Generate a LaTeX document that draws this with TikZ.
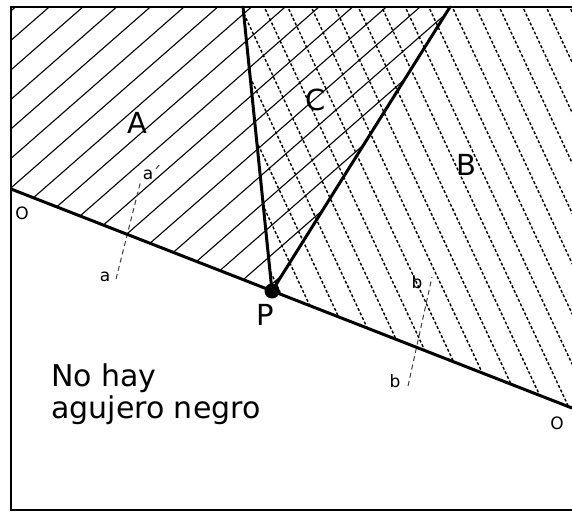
\documentclass[tikz,border=0pt]{standalone}
\usepackage{fontspec}
\setmainfont{DejaVu Sans}
\begin{document}
\begin{tikzpicture}[x=1pt,y=-1pt,
  frame/.style={line width=2.7pt},
  mainline/.style={line width=3pt},
  hatchA/.style={line width=1.1pt},
  hatchB/.style={line width=1.4pt, dash pattern=on 3pt off 2pt},
  guide/.style={line width=1pt, dash pattern=on 5pt off 3.5pt, black!75},
  big/.style={font=\fontsize{29}{31}\selectfont, inner sep=0pt},
  small/.style={font=\fontsize{17}{19}\selectfont, inner sep=0pt},
  tinylab/.style={font=\fontsize{17}{19}\selectfont, inner sep=0pt}]
\useasboundingbox (0,0) rectangle (572,512);
\coordinate (TL) at (11,7);
\coordinate (TR) at (572,7);
\coordinate (BL) at (11,510);
\coordinate (BR) at (572,510);
\coordinate (O1) at (11,189);
\coordinate (O2) at (572,408);
\coordinate (P) at (272,291);
\coordinate (T1) at (243,7);
\coordinate (T2) at (450,7);
% hatch A (solid)
\begin{scope}
\clip (TL) -- (T2) -- (P) -- (O1) -- cycle;
\foreach \k in {-2,...,19} \draw[hatchA] (0,{50+29.5*\k}) -- (620,{50+29.5*\k-542.5});
\end{scope}
% hatch B (dashed)
\begin{scope}
\clip (T1) -- (TR) -- (O2) -- (P) -- cycle;
\foreach \k in {-16,...,6} \draw[hatchB] ({449+23.5*\k},0) -- ({449+23.5*\k+240},{240*2.14});
\end{scope}
% guide lines
\coordinate (a1) at (116,279);
\coordinate (a2) at (141,180);
\coordinate (b1) at (408,386);
\coordinate (b2) at (432,277);
\draw[guide] (a1) -- (a2);
\draw[guide] (b1) -- (b2);
\coordinate (ta1) at (156,169);
\coordinate (ta2) at (159,165);
\draw[line width=1pt, black!75] (ta1) -- (ta2);
% main lines
\draw[mainline] (O1) -- (O2);
\draw[mainline, line cap=round] (T1) -- (P) -- (T2);
\draw[frame] (TR) -- (TL) -- (BL) -- (BR);
\node[circle, fill, inner sep=0pt, minimum size=15pt] (Pdot) at (P) {};
% labels
\node[big] (lA) at (137,123) {A};
\node[big] (lB) at (466,165) {B};
\node[big] (lC) at (316,100) {C};
\node[big] (lP) at (265,315) {P};
\node[small] (lO1) at (22,213) {O};
\node[small] (lO2) at (557,423) {O};
\node[tinylab] (la1) at (105,277) {a};
\node[tinylab] (la2) at (148,175) {a};
\node[tinylab] (lb1) at (417,282) {b};
\node[tinylab] (lb2) at (395,381) {b};
\node[anchor=north west, inner sep=0pt, align=left, font=\fontsize{30}{32}\selectfont] (txt) at (51,363) {No hay\\agujero negro};
\end{tikzpicture}
\end{document}
